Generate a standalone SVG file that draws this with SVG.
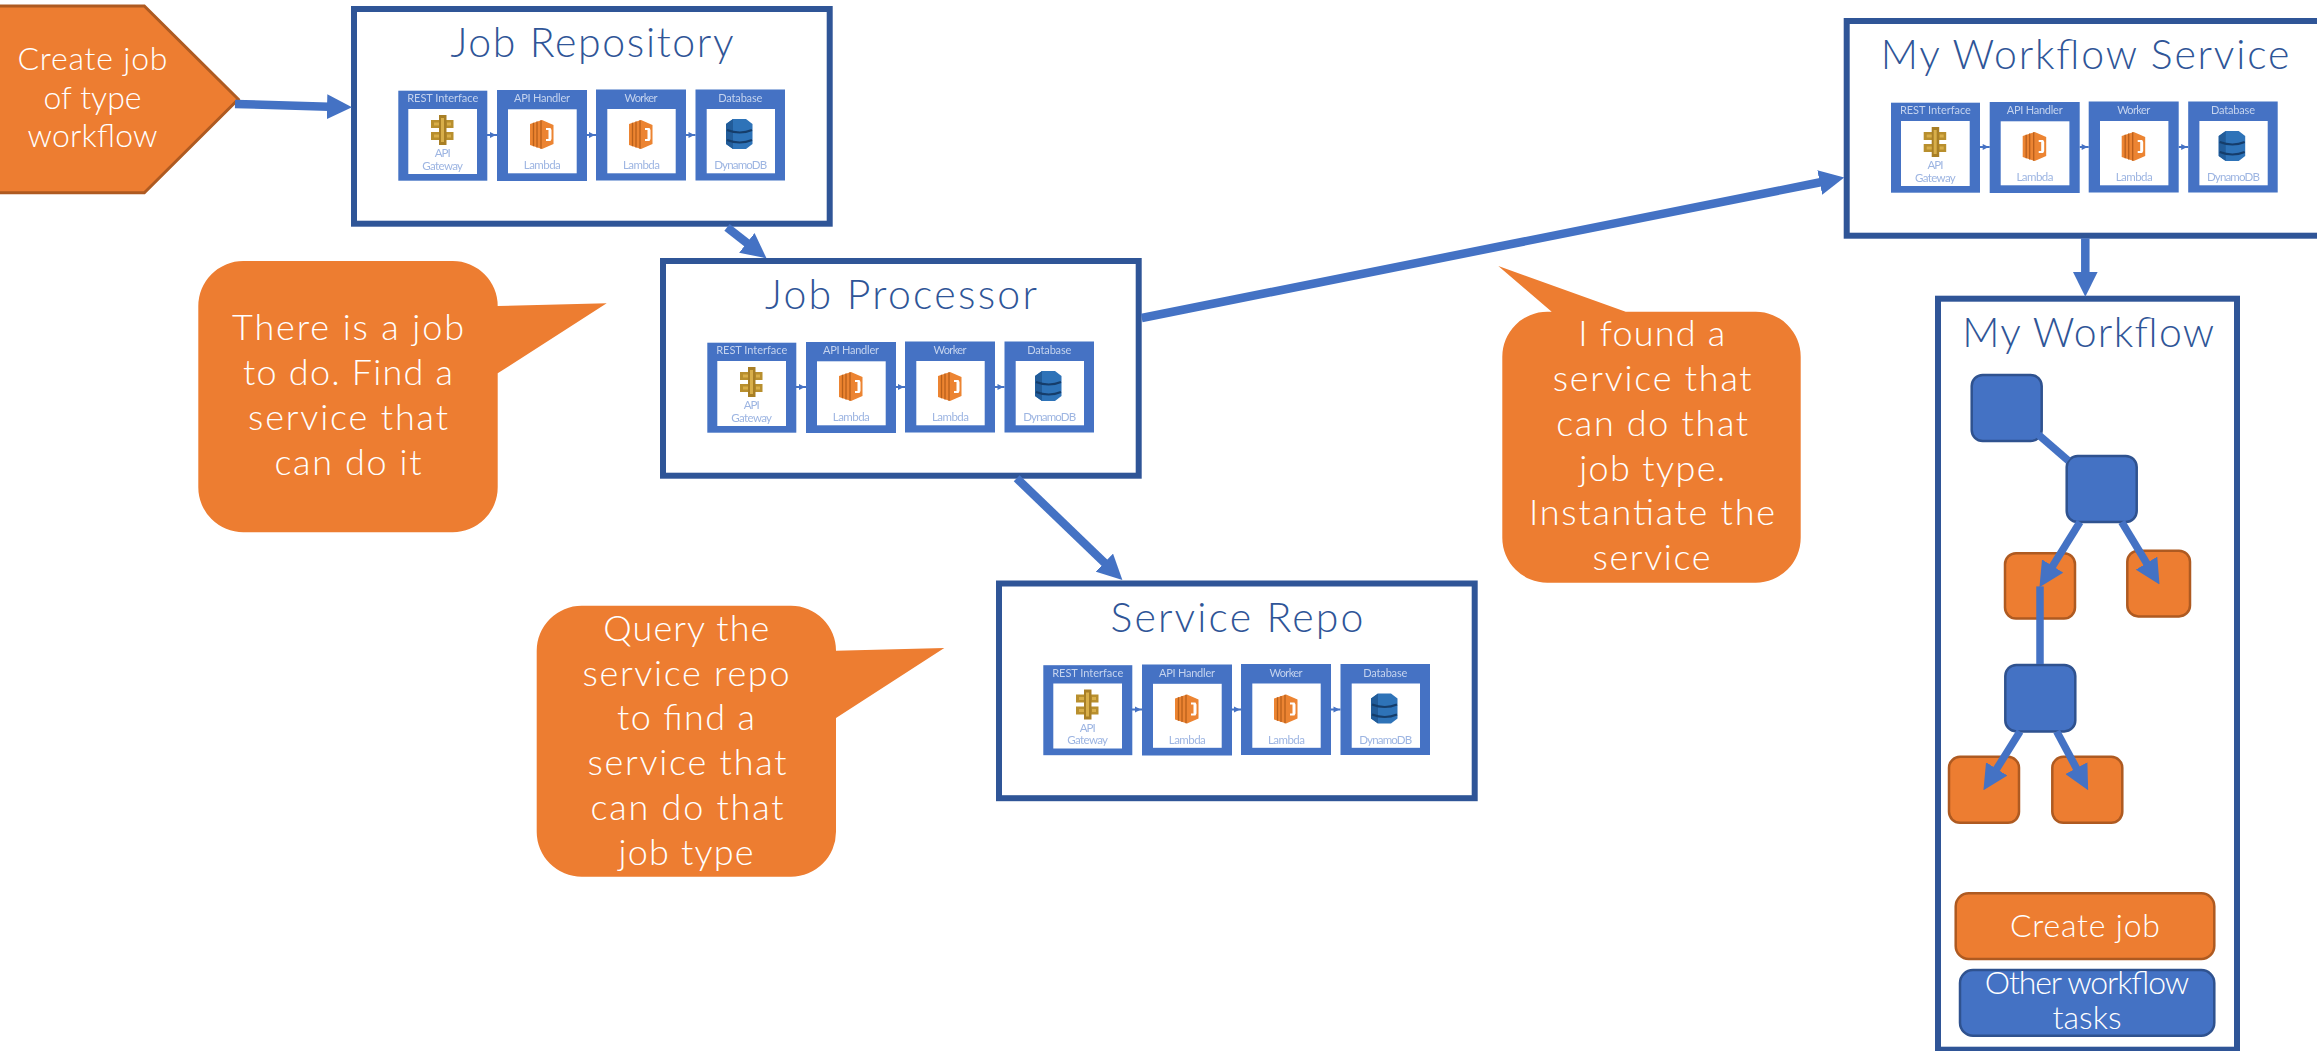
<svg xmlns="http://www.w3.org/2000/svg" xmlns:xlink="http://www.w3.org/1999/xlink" width="2317" height="1051" viewBox="0 0 2317 1051">
<style>
text{font-family:"Lato","Noto Sans",sans-serif;font-weight:300;text-anchor:middle}
.box{fill:#fff;stroke:#2F5597;stroke-width:6}
.title{font-size:41px;fill:#2F5597}
.say{font-size:36px;fill:#fff}
.sm{font-size:32px}
.bubble{fill:#ED7D31}
.o{fill:#ED7D31;stroke:#AE5A21;stroke-width:2.5}
.b{fill:#4472C4;stroke:#2F528F;stroke-width:2.5}
.panel{fill:#4472C4}
.white{fill:#fff}
.pl{font-size:11px;fill:#C5D3EE;font-weight:400}
.wl{font-size:11.500px;fill:#9DB5E2;font-weight:400}
.mini{stroke:#4472C4;stroke-width:2;fill:none}
.conn{stroke:#4472C4;stroke-width:8.500;fill:none}
.thin{stroke-width:7.500}
.headed{marker-end:url(#head)}
</style>
<defs>
<marker id="head" markerUnits="userSpaceOnUse" markerWidth="25" markerHeight="25" refX="2" refY="12.500" orient="auto">
<path d="M0,0L25,12.500L0,25Z" fill="#4472C4"/>
</marker>
<filter id="soft" x="-2%" y="-2%" width="104%" height="104%"><feGaussianBlur stdDeviation="0.45"/></filter>
<g id="gateway-icon">
<path d="M431,120h22.500v8h-22.500zM431,132h22.500v8h-22.500z" fill="#B88F2E"/>
<path d="M439,115h7.500v30h-7.500z" fill="#A87F28"/>
<path d="M441,118h3v24h-3zM434,122.500h5v3h-5zM447,122.500h4v3h-4zM434,134.500h5v3h-5zM447,134.500h4v3h-4z" fill="#D8AE48"/>
</g>
<g id="lambda-icon">
<path d="M530,124l12,-4l11.500,5v19l-11.500,5l-12,-4z" fill="#EC8430"/>
<path d="M533.500,122.800v23.400M537,121.600v25.800M541,120.300v28.400" stroke="#B9601F" stroke-width="1.300" fill="none"/>
<path d="M546,128h4.500l1,2v9l-1,2h-4.500v-2h2.500v-9h-2.500z" fill="#fff"/>
</g>
<g id="dynamo-icon">
<path d="M733,119h13l6.500,5v20l-6.500,5h-13l-7,-5v-20z" fill="#2E73B8"/>
<path d="M726,124l7,-5v30l-7,-5z" fill="#205B99"/>
<path d="M727,130q13,5 25,0M727,140q13,5 25,0" stroke="#153E6B" stroke-width="2" fill="none"/>
</g>
<g id="stack-shapes">
<rect class="panel" x="398.300" y="90.700" width="89" height="90"/>
<rect class="panel" x="497" y="90" width="90" height="91"/>
<rect class="panel" x="596" y="89.500" width="90" height="91"/>
<rect class="panel" x="695.500" y="89.500" width="89.500" height="91"/>
<rect class="white" x="408.300" y="109" width="68.700" height="65"/>
<rect class="white" x="508" y="109.300" width="68.700" height="64"/>
<rect class="white" x="607.300" y="109" width="68.400" height="64.300"/>
<rect class="white" x="706.700" y="109" width="68.300" height="64.300"/>
<path class="mini" d="M487,135H497M587,135H596M686,135H695.500"/>
<path d="M490,132l6,3l-6,3zM589,132l6,3l-6,3zM688.500,132l6,3l-6,3z" fill="#4472C4"/>
<use xlink:href="#gateway-icon" href="#gateway-icon"/>
<use xlink:href="#lambda-icon" href="#lambda-icon"/>
<use xlink:href="#lambda-icon" href="#lambda-icon" x="99"/>
<use xlink:href="#dynamo-icon" href="#dynamo-icon"/>
</g>
</defs>
<rect width="2317" height="1051" fill="#fff"/>

<g id="create-job-trigger">
<path d="M-10,6H144.300L238.300,99.300L144.300,192.700H-10Z" fill="#ED7D31" stroke="#AE5A21" stroke-width="3"/>
<text class="say sm" x="92.500" y="70" textLength="150">Create job</text>
<text class="say sm" x="92.500" y="109.300" textLength="98">of type</text>
<text class="say sm" x="92.500" y="146.700" textLength="130">workflow</text>
</g>

<g id="job-repository">
<rect class="box" x="354" y="9" width="475.700" height="214.700"/>
<text class="title" x="592" y="57" textLength="283">Job Repository</text>
<g filter="url(#soft)">
<use xlink:href="#stack-shapes" href="#stack-shapes"/>
<text class="pl" x="442.700" y="102.300" textLength="71">REST Interface</text>
<text class="pl" x="542" y="102" textLength="56">API Handler</text>
<text class="pl" x="641" y="102" textLength="33">Worker</text>
<text class="pl" x="740.300" y="102" textLength="44">Database</text>
<text class="wl" x="442.700" y="157" textLength="16">API</text>
<text class="wl" x="442.700" y="169.500" textLength="40.700">Gateway</text>
<text class="wl" x="542.300" y="169" textLength="37">Lambda</text>
<text class="wl" x="641.500" y="169" textLength="37">Lambda</text>
<text class="wl" x="740.700" y="169" textLength="53">DynamoDB</text>
</g>
</g>

<g id="job-processor" transform="translate(309,252)">
<rect class="box" x="354" y="9" width="475.700" height="214.700"/>
<text class="title" x="592" y="57" textLength="272">Job Processor</text>
<g filter="url(#soft)">
<use xlink:href="#stack-shapes" href="#stack-shapes"/>
<text class="pl" x="442.700" y="102.300" textLength="71">REST Interface</text>
<text class="pl" x="542" y="102" textLength="56">API Handler</text>
<text class="pl" x="641" y="102" textLength="33">Worker</text>
<text class="pl" x="740.300" y="102" textLength="44">Database</text>
<text class="wl" x="442.700" y="157" textLength="16">API</text>
<text class="wl" x="442.700" y="169.500" textLength="40.700">Gateway</text>
<text class="wl" x="542.300" y="169" textLength="37">Lambda</text>
<text class="wl" x="641.500" y="169" textLength="37">Lambda</text>
<text class="wl" x="740.700" y="169" textLength="53">DynamoDB</text>
</g>
</g>

<g id="service-repo" transform="translate(645,574.500)">
<rect class="box" x="354" y="9" width="475.700" height="214.700"/>
<text class="title" x="592" y="57" textLength="253">Service Repo</text>
<g filter="url(#soft)">
<use xlink:href="#stack-shapes" href="#stack-shapes"/>
<text class="pl" x="442.700" y="102.300" textLength="71">REST Interface</text>
<text class="pl" x="542" y="102" textLength="56">API Handler</text>
<text class="pl" x="641" y="102" textLength="33">Worker</text>
<text class="pl" x="740.300" y="102" textLength="44">Database</text>
<text class="wl" x="442.700" y="157" textLength="16">API</text>
<text class="wl" x="442.700" y="169.500" textLength="40.700">Gateway</text>
<text class="wl" x="542.300" y="169" textLength="37">Lambda</text>
<text class="wl" x="641.500" y="169" textLength="37">Lambda</text>
<text class="wl" x="740.700" y="169" textLength="53">DynamoDB</text>
</g>
</g>

<g id="my-workflow-service" transform="translate(1492.700,12)">
<rect class="box" x="354" y="9" width="475.700" height="214.700"/>
<text class="title" x="592.300" y="57" textLength="408.600">My Workflow Service</text>
<g filter="url(#soft)">
<use xlink:href="#stack-shapes" href="#stack-shapes"/>
<text class="pl" x="442.700" y="102.300" textLength="71">REST Interface</text>
<text class="pl" x="542" y="102" textLength="56">API Handler</text>
<text class="pl" x="641" y="102" textLength="33">Worker</text>
<text class="pl" x="740.300" y="102" textLength="44">Database</text>
<text class="wl" x="442.700" y="157" textLength="16">API</text>
<text class="wl" x="442.700" y="169.500" textLength="40.700">Gateway</text>
<text class="wl" x="542.300" y="169" textLength="37">Lambda</text>
<text class="wl" x="641.500" y="169" textLength="37">Lambda</text>
<text class="wl" x="740.700" y="169" textLength="53">DynamoDB</text>
</g>
</g>

<g id="my-workflow">
<rect class="box" x="1938" y="298.700" width="299" height="751"/>
<text class="title" x="2088.200" y="347" textLength="252">My Workflow</text>
</g>
<g id="task-1"><rect class="b" x="1971.700" y="375" width="70" height="66" rx="11"/></g>
<g id="task-2"><rect class="b" x="2066.700" y="456" width="70" height="66" rx="11"/></g>
<g id="job-1"><rect class="o" x="2005" y="553.200" width="70" height="65.400" rx="11"/></g>
<g id="job-2"><rect class="o" x="2127.300" y="550.700" width="62.700" height="65.700" rx="11"/></g>
<g id="task-3"><rect class="b" x="2005.300" y="665" width="70" height="66.400" rx="11"/></g>
<g id="job-3"><rect class="o" x="1949" y="756.800" width="70" height="66" rx="11"/></g>
<g id="job-4"><rect class="o" x="2052.300" y="756.800" width="70" height="66" rx="11"/></g>
<g id="legend-create-job">
<rect class="o" x="1955.700" y="893.300" width="258.600" height="65.700" rx="13"/>
<text class="say sm" x="2085" y="936.700" textLength="150">Create job</text>
</g>
<g id="legend-other-tasks">
<rect class="b" x="1960" y="970" width="254.300" height="65.700" rx="13"/>
<text class="say sm" x="2087" y="994" textLength="204.300">Other workflow</text>
<text class="say sm" x="2087" y="1029.300" textLength="69">tasks</text>
</g>

<g id="callout-find-service">
<path class="bubble" d="M243.300,261H452.700A45,45 0 0 1 497.700,306L606.700,303.300L497.700,373.300V487.300A45,45 0 0 1 452.700,532.300H243.300A45,45 0 0 1 198.300,487.300V306A45,45 0 0 1 243.300,261Z"/>
<text class="say" x="348" y="340" textLength="232">There is a job</text>
<text class="say" x="348" y="385" textLength="210">to do. Find a</text>
<text class="say" x="348" y="430" textLength="200">service that</text>
<text class="say" x="348" y="475" textLength="147">can do it</text>
</g>
<g id="callout-query-repo">
<path class="bubble" d="M581.700,605.700H791A45,45 0 0 1 836,650.700L944.300,648L836,718V831.700A45,45 0 0 1 791,876.700H581.700A45,45 0 0 1 536.700,831.700V650.700A45,45 0 0 1 581.700,605.700Z"/>
<text class="say" x="686.300" y="640.700" textLength="166">Query the</text>
<text class="say" x="686" y="685.700" textLength="207">service repo</text>
<text class="say" x="686" y="730" textLength="138">to find a</text>
<text class="say" x="687" y="775.300" textLength="199">service that</text>
<text class="say" x="687" y="820" textLength="193">can do that</text>
<text class="say" x="686" y="865" textLength="135">job type</text>
</g>
<g id="callout-found-service">
<path class="bubble" d="M1547.300,311.700H1551.700L1498.300,266L1625.700,311.700H1755.700A45,45 0 0 1 1800.700,356.700V537.700A45,45 0 0 1 1755.700,582.700H1547.300A45,45 0 0 1 1502.300,537.700V356.700A45,45 0 0 1 1547.300,311.700Z"/>
<text class="say" x="1651.700" y="346" textLength="147">I found a</text>
<text class="say" x="1652.200" y="391.300" textLength="199">service that</text>
<text class="say" x="1652.200" y="436" textLength="192">can do that</text>
<text class="say" x="1652.200" y="481" textLength="146">job type.</text>
<text class="say" x="1652" y="525" textLength="246">Instantiate the</text>
<text class="say" x="1651.500" y="570" textLength="118">service</text>
</g>

<g id="connectors">
<path class="conn headed" d="M235,104L329,106.700"/>
<path class="conn headed" d="M727,227.300L748.400,244.100"/>
<path class="conn headed" d="M1141.700,318L1821.700,182"/>
<path class="conn headed" d="M1016.700,478.300L1105.800,564"/>
<path class="conn headed" d="M2085.300,238.300V273.700"/>
<path class="conn thin" d="M2038.300,434.600L2068.300,460.700"/>
<path class="conn thin headed" d="M2080,522L2051.600,567.700"/>
<path class="conn thin headed" d="M2121.700,522L2147.600,564.800"/>
<path class="conn thin" d="M2040,586.400V664"/>
<path class="conn thin headed" d="M2020,731.400L1995.600,770.600"/>
<path class="conn thin headed" d="M2056.700,731.400L2077.300,769.900"/>
</g>
</svg>
